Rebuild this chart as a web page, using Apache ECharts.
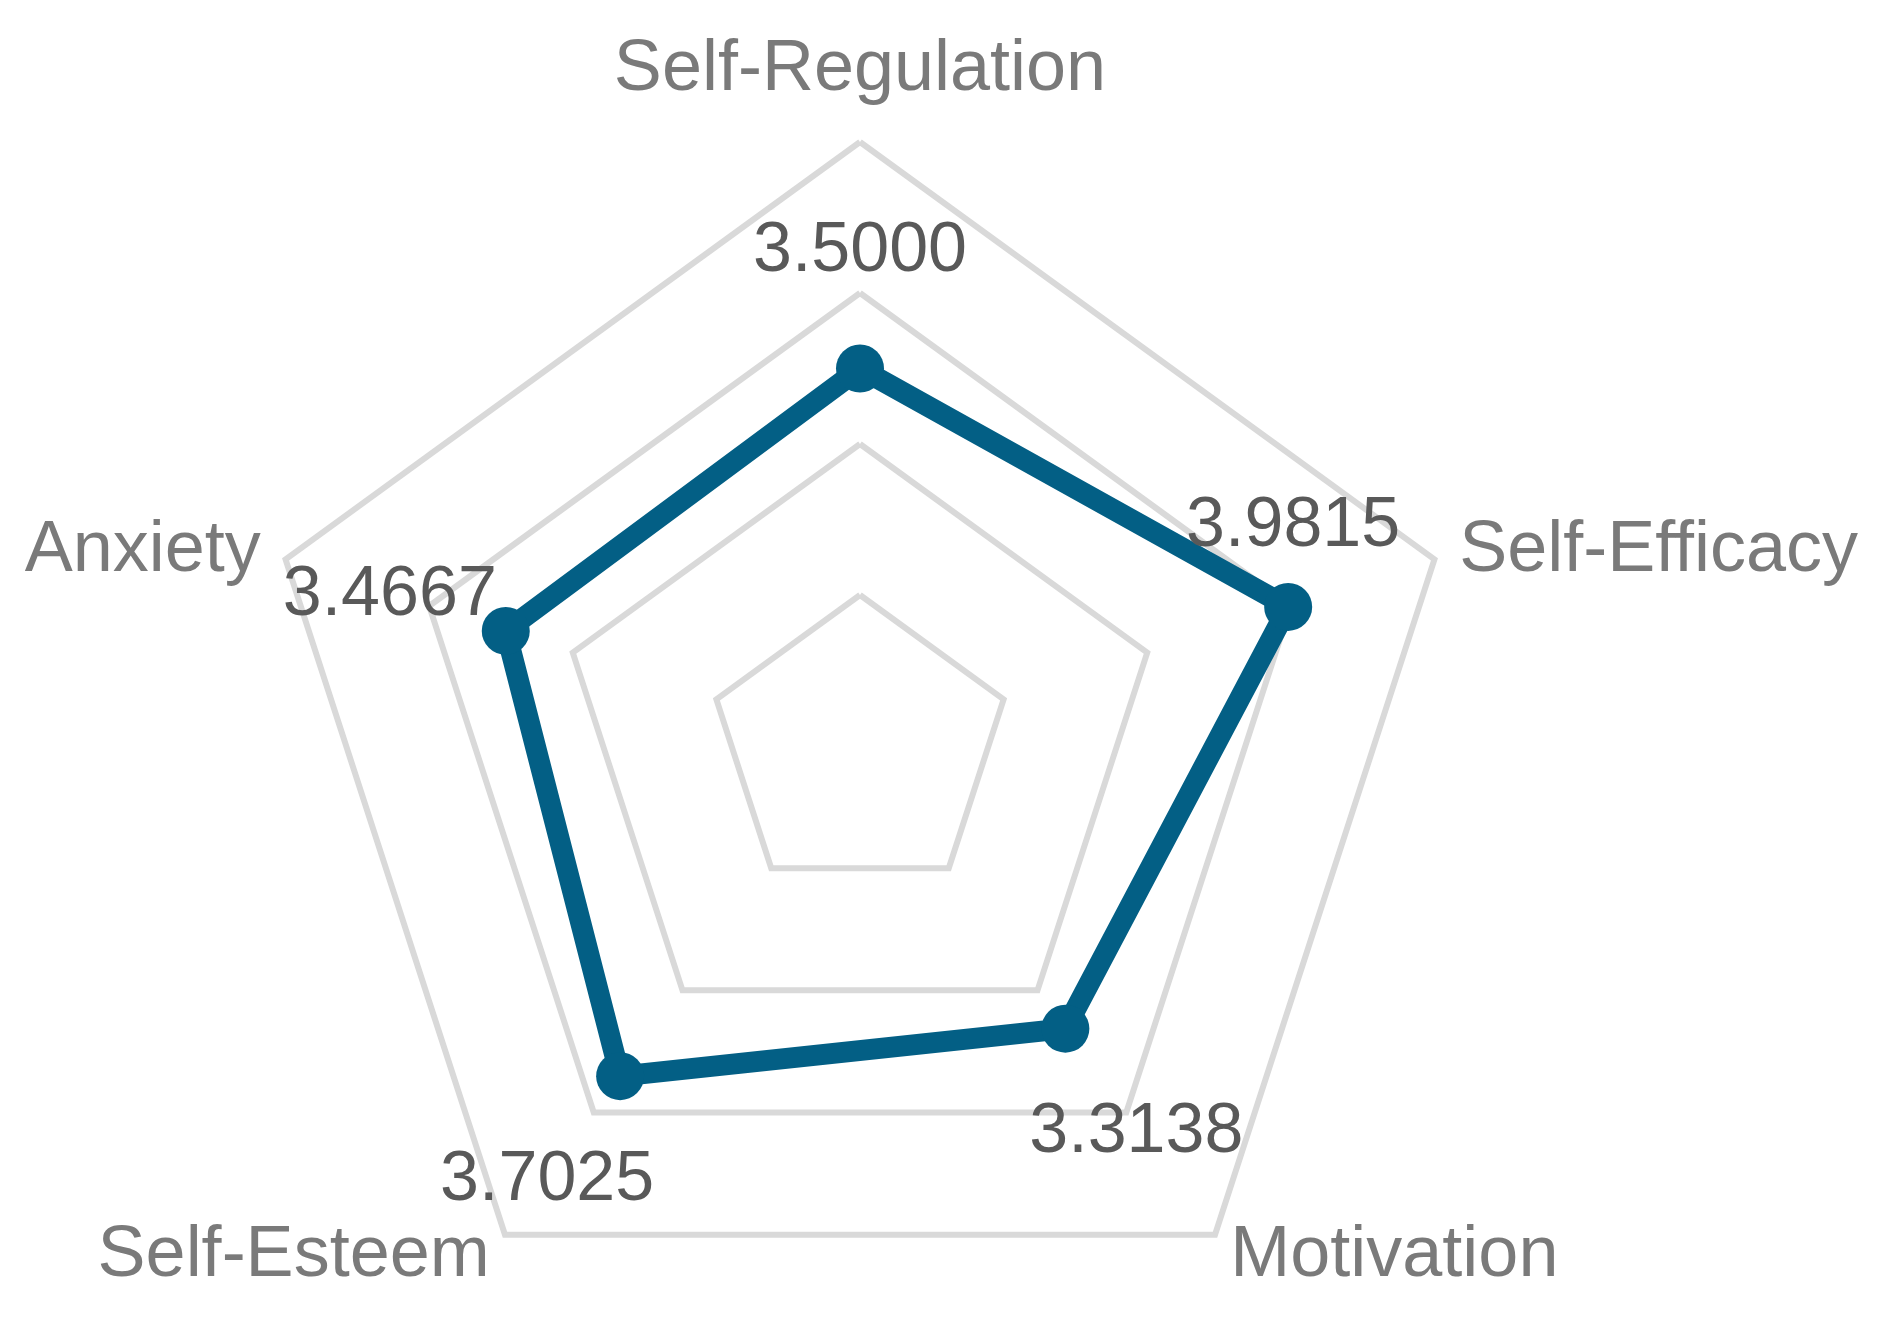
<!DOCTYPE html>
<html>
<head>
<meta charset="utf-8">
<style>
  html, body { margin: 0; padding: 0; background: #ffffff; }
  #chart { width: 1894px; height: 1318px; }
</style>
<script src="https://cdn.jsdelivr.net/npm/echarts@6/dist/echarts.min.js"></script>
</head>
<body>
<div id="chart"></div>
<script>
// Categories in ECharts drawing order (counter-clockwise from top)
const categories = ['Self-Regulation', 'Anxiety', 'Self-Esteem', 'Motivation', 'Self-Efficacy'];
const values = [3.5000, 3.4667, 3.7025, 3.3138, 3.9815];
const scaleMin = 1;
const scaleMax = 5;
const ringCount = 4;

// label offsets (layout, by category)
const labelShift = {
  'Self-Regulation': [0, -117],
  'Anxiety': [-116, -35],
  'Self-Esteem': [-73, 105],
  'Motivation': [71, 104],
  'Self-Efficacy': [5, -80]
};

const chart = echarts.init(document.getElementById('chart'), null, { renderer: 'canvas' });

const labelTexts = values.map(v => v.toFixed(4));

chart.setOption({
  backgroundColor: '#ffffff',
  animation: false,
  radar: {
    center: [860, 746],
    radius: 604,
    startAngle: 90,
    shape: 'polygon',
    splitNumber: ringCount,
    indicator: categories.map(c => ({ name: c, min: scaleMin, max: scaleMax })),
    axisName: {
      color: '#7a7a7a',
      fontSize: 72,
      fontFamily: 'Liberation Sans',
      formatter: function (name) {
        return name === 'Self-Regulation' ? '{top|' + name + '}' : name;
      },
      rich: {
        top: { fontSize: 72, color: '#7a7a7a', fontFamily: 'Liberation Sans', padding: [0, 0, 10, 0] }
      }
    },
    nameGap: 26,
    axisLine: { show: false },
    axisTick: { show: false },
    axisLabel: { show: false },
    splitArea: { show: false },
    splitLine: { lineStyle: { color: '#d9d9d9', width: 6 } }
  },
  series: [{
    type: 'radar',
    symbol: 'circle',
    symbolSize: 48,
    lineStyle: { color: '#035f85', width: 21 },
    itemStyle: { color: '#035f85' },
    label: {
      show: true,
      position: 'inside',
      color: '#595959',
      fontSize: 70,
      fontFamily: 'Liberation Sans',
      formatter: function (p) {
        const v = Array.isArray(p.value) ? p.value[p.dimensionIndex] : p.value;
        return Number(v).toFixed(4);
      }
    },
    labelLayout: function (params) {
      const i = labelTexts.indexOf(params.text);
      if (i < 0) return {};
      const s = labelShift[categories[i]];
      return { dx: s[0], dy: s[1] };
    },
    data: [{ value: values, name: 'Mean' }]
  }]
});
</script>
</body>
</html>
